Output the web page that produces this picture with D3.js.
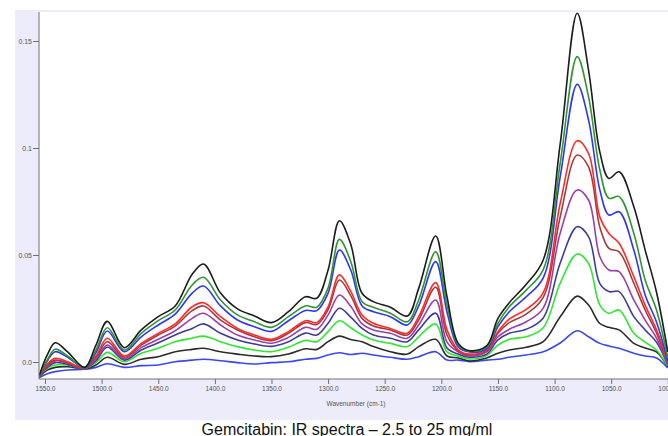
<!DOCTYPE html>
<html>
<head>
<meta charset="utf-8">
<script src="https://cdn.jsdelivr.net/npm/d3@7"></script>
<style>
  body { margin: 0; background: #ffffff; }
  svg text { font-family: "Liberation Sans", Arial, sans-serif; }
</style>
</head>
<body>
<div id="chart"></div>
<script>
const wavenumbers = [1555, 1548, 1541, 1530, 1515, 1505, 1495, 1480, 1465, 1450,
  1435, 1420, 1410, 1395, 1380, 1365, 1350, 1335, 1320, 1310,
  1300, 1290, 1280, 1270, 1260, 1245, 1230, 1220, 1205, 1195,
  1185, 1175, 1160, 1150, 1140, 1125, 1110, 1095, 1080, 1070,
  1060, 1052, 1043, 1030, 1020, 1010, 1000];

// absorbance per concentration (mg/ml)
const abs_25_0 = [-0.0062, 0.0033, 0.009, 0.0047, -0.0025, 0.0079, 0.019, 0.0067, 0.015, 0.0212,
  0.0262, 0.041, 0.0458, 0.0322, 0.0248, 0.0215, 0.0184, 0.0235, 0.0305, 0.0298,
  0.043, 0.066, 0.055, 0.0321, 0.0282, 0.0256, 0.0215, 0.0344, 0.0589, 0.0305,
  0.0087, 0.0053, 0.0075, 0.0204, 0.0277, 0.0363, 0.0477, 0.102, 0.163, 0.1364,
  0.0981, 0.0858, 0.0889, 0.0726, 0.0523, 0.0327, 0.0047];
const abs_22_5 = [-0.0064, 0.001, 0.006, 0.0028, -0.0026, 0.0056, 0.016, 0.0056, 0.0134, 0.0193,
  0.0243, 0.036, 0.0396, 0.029, 0.022, 0.0188, 0.0162, 0.0212, 0.0262, 0.0256,
  0.0346, 0.0573, 0.047, 0.0282, 0.0256, 0.0228, 0.0188, 0.029, 0.0515, 0.0266,
  0.0079, 0.005, 0.0068, 0.0181, 0.0258, 0.0336, 0.0432, 0.093, 0.1427, 0.1239,
  0.0897, 0.0765, 0.0773, 0.0601, 0.0383, 0.0243, 0.002];
const abs_20_0 = [-0.0065, 0.0005, 0.0048, 0.0022, -0.0027, 0.0044, 0.0145, 0.0048, 0.0118, 0.0173,
  0.0224, 0.0322, 0.0355, 0.0262, 0.0196, 0.0165, 0.0143, 0.0193, 0.0241, 0.024,
  0.0322, 0.0523, 0.043, 0.0262, 0.0235, 0.0212, 0.0173, 0.0262, 0.0469, 0.0234,
  0.007, 0.0047, 0.0062, 0.0165, 0.0235, 0.0305, 0.0393, 0.0866, 0.1298, 0.1131,
  0.0804, 0.0687, 0.0702, 0.0523, 0.0313, 0.0187, 0.0005];
const abs_17_5 = [-0.0066, -0.001, 0.0017, 0.0001, -0.0028, 0.0028, 0.0111, 0.0028, 0.0087, 0.0134,
  0.0178, 0.0258, 0.0277, 0.0212, 0.0157, 0.0126, 0.0106, 0.0142, 0.0193, 0.0184,
  0.0258, 0.0407, 0.033, 0.022, 0.0181, 0.0157, 0.0134, 0.0212, 0.0371, 0.015,
  0.0056, 0.0037, 0.0056, 0.0142, 0.02, 0.0246, 0.0324, 0.0742, 0.1034, 0.0975,
  0.0677, 0.06, 0.0555, 0.0399, 0.0266, 0.015, 0.0];
const abs_15_0 = [-0.0067, -0.0015, 0.0009, -0.0003, -0.0029, 0.0022, 0.0095, 0.0022, 0.0079, 0.0126,
  0.0168, 0.024, 0.0262, 0.0196, 0.015, 0.0118, 0.01, 0.0134, 0.0184, 0.0175,
  0.0245, 0.0383, 0.031, 0.0204, 0.0168, 0.015, 0.0126, 0.0196, 0.0349, 0.0126,
  0.0051, 0.0033, 0.0051, 0.0134, 0.0184, 0.0224, 0.0302, 0.0679, 0.0967, 0.0912,
  0.063, 0.0531, 0.0515, 0.0368, 0.0243, 0.0136, -0.0005];
const abs_12_5 = [-0.0068, -0.002, 0.0005, -0.0006, -0.003, 0.0013, 0.0079, 0.0015, 0.0067, 0.0106,
  0.0146, 0.0204, 0.0228, 0.0173, 0.0126, 0.0103, 0.0088, 0.0115, 0.0162, 0.0153,
  0.022, 0.0313, 0.026, 0.0178, 0.015, 0.0134, 0.0111, 0.0173, 0.029, 0.0093,
  0.0047, 0.0028, 0.0047, 0.0118, 0.0153, 0.0188, 0.0252, 0.0603, 0.0804, 0.0757,
  0.0492, 0.043, 0.0422, 0.029, 0.0196, 0.0112, -0.0009];
const abs_10_0 = [-0.0069, -0.0025, -0.0003, -0.0011, -0.003, 0.0006, 0.0069, 0.0009, 0.0056, 0.009,
  0.0126, 0.0157, 0.0178, 0.0134, 0.0103, 0.0084, 0.0073, 0.0095, 0.0135, 0.0126,
  0.0181, 0.0251, 0.021, 0.0157, 0.0126, 0.0111, 0.0095, 0.015, 0.0228, 0.0065,
  0.0037, 0.0023, 0.0037, 0.0103, 0.0134, 0.0153, 0.0206, 0.0463, 0.0632, 0.0586,
  0.0366, 0.0329, 0.0329, 0.0212, 0.015, 0.0093, -0.0014];
const abs_7_5 = [-0.007, -0.003, -0.0014, -0.0014, -0.0031, -0.0003, 0.0045, 0.0001, 0.0041, 0.0064,
  0.0095, 0.0111, 0.0121, 0.0095, 0.0072, 0.0056, 0.0048, 0.0069, 0.0101, 0.0095,
  0.0142, 0.0193, 0.016, 0.0126, 0.0103, 0.0087, 0.0072, 0.0118, 0.0178, 0.0047,
  0.0028, 0.0014, 0.003, 0.0079, 0.0106, 0.0118, 0.016, 0.0369, 0.0505, 0.0461,
  0.0266, 0.0228, 0.0243, 0.0134, 0.0093, 0.0056, -0.0019];
const abs_5_0 = [-0.0071, -0.0038, -0.0025, -0.0022, -0.0032, -0.0014, 0.0022, -0.0011, 0.0013, 0.0025,
  0.0048, 0.0059, 0.0064, 0.0048, 0.0037, 0.0028, 0.0025, 0.0037, 0.0062, 0.0059,
  0.0095, 0.0121, 0.0105, 0.0095, 0.0072, 0.0048, 0.0037, 0.0072, 0.0106, 0.0028,
  0.0019, 0.0005, 0.0019, 0.0041, 0.0056, 0.0069, 0.0095, 0.0211, 0.0308, 0.0266,
  0.018, 0.0162, 0.015, 0.0087, 0.0065, 0.0047, -0.0023];
const abs_2_5 = [-0.0073, -0.0055, -0.0045, -0.0037, -0.0034, -0.0025, -0.0008, -0.0025, -0.0017, -0.0014,
  0.0001, 0.0009, 0.0013, 0.0006, -0.0003, -0.0009, -0.0003, 0.0001, 0.0013, 0.0017,
  0.0033, 0.0043, 0.0035, 0.0041, 0.0033, 0.0022, 0.0013, 0.0025, 0.0048, 0.0009,
  0.0009, 0.0002, 0.0009, 0.0013, 0.0022, 0.0033, 0.0048, 0.0089, 0.0146, 0.0118,
  0.0087, 0.0075, 0.0064, 0.0041, 0.0028, 0.0019, -0.0028];

const concentrations = ["2.5", "5.0", "7.5", "10.0", "12.5", "15.0", "17.5", "20.0", "22.5", "25.0"];
const spectra = [abs_2_5, abs_5_0, abs_7_5, abs_10_0, abs_12_5, abs_15_0, abs_17_5, abs_20_0, abs_22_5, abs_25_0];
const line_colors = ["#3b46f5", "#2b2b2b", "#2ee82e", "#3d3d99", "#9b3fae", "#a83a3a", "#ff2a2a", "#2f35f8", "#2f962f", "#1c1c1c"];

const x_major = [1550, 1500, 1450, 1400, 1350, 1300, 1250, 1200, 1150, 1100, 1050, 1000];
const y_major = [0, 0.05, 0.1, 0.15];
const y_labels = ["0.0", "0.05", "0.1", "0.15"];

const caption = "Gemcitabin: IR spectra \u2013 2.5 to 25 mg/ml";
const x_title = "Wavenumber (cm-1)";

let width = 668, height = 436;
let plot = {left: 39, right: 668, top: 12, bottom: 379};

let svg = d3.select("#chart").append("svg")
    .attr("width", width)
    .attr("height", height);

// lavender frame and white plotting area
svg.append("rect")
    .attr("x", 15).attr("y", 10)
    .attr("width", width - 15).attr("height", 410)
    .attr("fill", "#ececfa");
svg.append("rect")
    .attr("x", plot.left).attr("y", plot.top)
    .attr("width", plot.right - plot.left).attr("height", plot.bottom - plot.top)
    .attr("fill", "#ffffff");

let x = d3.scaleLinear()
    .domain([1555.3, 1000])
    .range([plot.left, 667.8]);
let y = d3.scaleLinear()
    .domain([-0.00794, 0.16355])
    .range([plot.bottom, plot.top]);

svg.append("clipPath").attr("id", "plot-clip")
  .append("rect")
    .attr("x", plot.left).attr("y", plot.top)
    .attr("width", plot.right - plot.left).attr("height", plot.bottom - plot.top);

let line = d3.line()
    .x(function(d) { return x(d[0]); })
    .y(function(d) { return y(d[1]); })
    .curve(d3.curveCatmullRom.alpha(0.5));

let series = spectra.map(function(vals, i) {
  return {
    name: concentrations[i],
    color: line_colors[i],
    points: wavenumbers.map(function(w, j) { return [w, vals[j]]; })
  };
});

svg.append("g")
    .attr("clip-path", "url(#plot-clip)")
  .selectAll(".spectrum")
    .data(series)
  .enter().append("path")
    .attr("class", "spectrum")
    .attr("fill", "none")
    .attr("stroke", function(d) { return d.color; })
    .attr("stroke-width", 1.6)
    .attr("stroke-linejoin", "round")
    .attr("d", function(d) { return line(d.points); });

// y axis
let y_axis = svg.append("g").attr("transform", "translate(" + plot.left + ",0)");
y_axis.call(d3.axisLeft(y).tickValues(d3.range(0, 0.165, 0.0125)).tickSize(3).tickFormat(""));
y_axis.call(d3.axisLeft(y).tickValues(y_major).tickSize(6)
    .tickFormat(function(d, i) { return y_labels[i]; }));
y_axis.selectAll(".domain").remove();
y_axis.append("line")
    .attr("x1", 0).attr("x2", 0)
    .attr("y1", plot.top).attr("y2", plot.bottom)
    .attr("stroke", "#707070");
y_axis.selectAll(".tick line").attr("stroke", "#707070");
y_axis.selectAll(".tick text")
    .attr("fill", "#555555")
    .attr("x", -7)
    .style("font-size", "7px");

// x axis
let x_axis = svg.append("g").attr("transform", "translate(0," + plot.bottom + ")");
x_axis.call(d3.axisBottom(x).tickValues(d3.range(1550, 999, -10)).tickSize(3).tickFormat(""));
x_axis.call(d3.axisBottom(x).tickValues(x_major).tickSize(5)
    .tickFormat(function(d) { return d3.format(".1f")(d); }));
x_axis.selectAll(".domain").remove();
x_axis.append("line")
    .attr("x1", plot.left).attr("x2", plot.right)
    .attr("y1", 0).attr("y2", 0)
    .attr("stroke", "#707070");
x_axis.selectAll(".tick line").attr("stroke", "#707070");
x_axis.selectAll(".tick text")
    .attr("fill", "#555555")
    .attr("y", 7)
    .style("font-size", "6.5px");

svg.append("text")
    .attr("x", 356).attr("y", 406)
    .attr("text-anchor", "middle")
    .attr("fill", "#555555")
    .style("font-size", "6.5px")
    .text(x_title);

svg.append("text")
    .attr("x", 347).attr("y", 435)
    .attr("text-anchor", "middle")
    .attr("fill", "#111111")
    .style("font-size", "16px")
    .text(caption);
</script>
</body>
</html>
